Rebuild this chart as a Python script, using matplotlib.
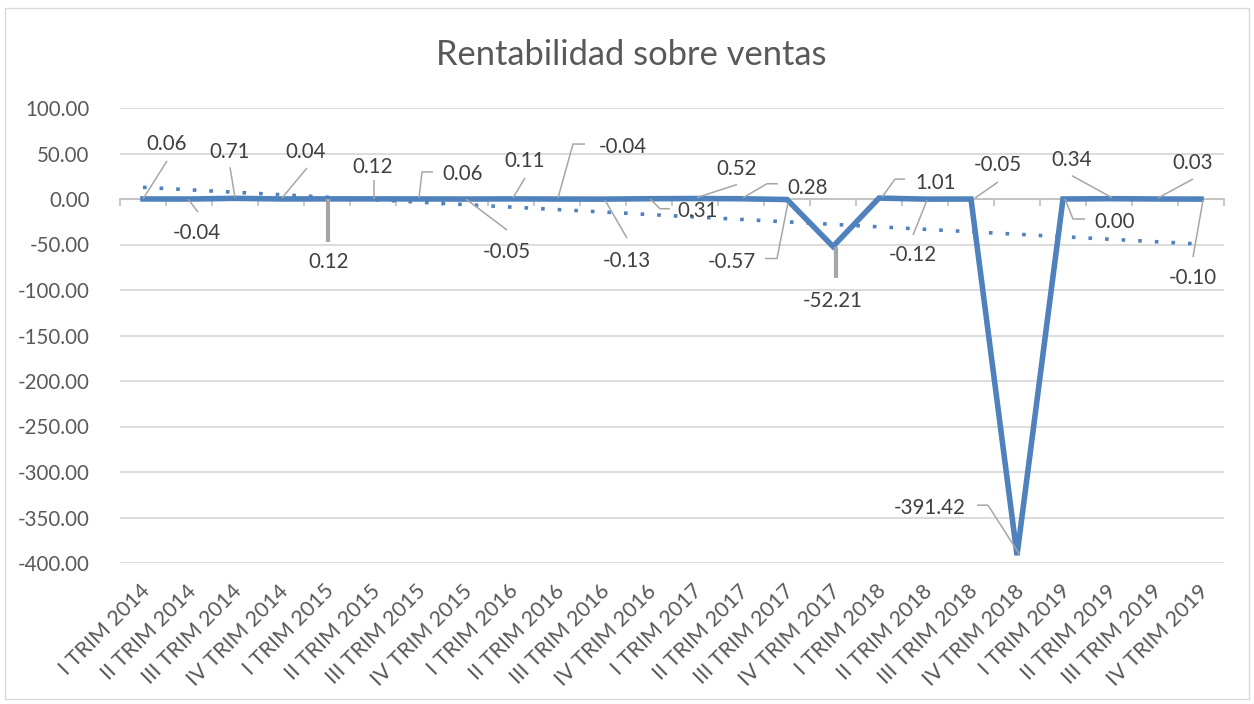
import numpy as np
import matplotlib
matplotlib.use("Agg")
import matplotlib.pyplot as plt
import matplotlib.transforms as mtransforms
from matplotlib.patches import Rectangle

plt.rcParams['font.family'] = ['Lato', 'DejaVu Sans']

# ---------------- data ----------------
title = "Rentabilidad sobre ventas"
categories = [
    "I TRIM 2014", "II TRIM 2014", "III TRIM 2014", "IV TRIM 2014",
    "I TRIM 2015", "II TRIM 2015", "III TRIM 2015", "IV TRIM 2015",
    "I TRIM 2016", "II TRIM 2016", "III TRIM 2016", "IV TRIM 2016",
    "I TRIM 2017", "II TRIM 2017", "III TRIM 2017", "IV TRIM 2017",
    "I TRIM 2018", "II TRIM 2018", "III TRIM 2018", "IV TRIM 2018",
    "I TRIM 2019", "II TRIM 2019", "III TRIM 2019", "IV TRIM 2019",
]
values = [0.06, -0.04, 0.71, 0.04, 0.12, 0.12, 0.06, -0.05,
          0.11, -0.04, -0.13, 0.31, 0.52, 0.28, -0.57, -52.21,
          1.01, -0.12, -0.05, -391.42, 0.00, 0.34, 0.03, -0.10]
y_ticks = [100, 50, 0, -50, -100, -150, -200, -250, -300, -350, -400]

# ---------------- label layout (pixel offsets, image coords: y down) ----------------
# (text dx, text dy, leader path, thick leader)
label_layout = [
    ((24, -55), [(0, 0), (24, -38)], False),
    ((8, 34), [(-1, 0), (9, 13)], False),
    ((-5, -46), [(0, -1), (-5, -31)], False),
    ((25, -47), [(1, -1), (26, -31)], False),
    ((2, 63), [(1, 0), (1, 43)], True),
    ((0, -32), [(1, 0), (1, -19)], False),
    ((44, -25), [(0, -1), (3, -27), (14, -27)], False),
    ((42, 53), [(1, 0), (42, 31)], False),
    ((14, -38), [(2, -1), (14, -21)], False),
    ((66, -52), [(1, -1), (16, -55), (28, -55)], False),
    ((24, 62), [(2, 1), (24, 39)], False),
    ((49, 12), [(1, 0), (11, 10), (21, 10)], False),
    ((42, -30), [(2, -1), (42, -14)], False),
    ((67, -11), [(2, -1), (26, -15), (37, -15)], False),
    ((-55, 62), [(1, 3), (-10, 59), (-22, 59)], False),
    ((0, 54), [(3, 0), (3, 31)], True),
    ((57, -15), [(3, -1), (16, -19), (26, -19)], False),
    ((-12, 56), [(2, 1), (-12, 36)], False),
    ((27, -34), [(4, -1), (27, -17)], False),
    ((-87, -47), [(3, 0), (-29, -50), (-40, -50)], False),
    ((52, 23), [(2, 0), (10, 20), (22, 20)], False),
    ((-37, -39), [(3, -1), (-37, -23)], False),
    ((38, -36), [(3, -1), (38, -20)], False),
    ((-8, 79), [(2, 1), (-8, 58)], False),
]

W, H = 1254, 704
fig = plt.figure(figsize=(W / 100, H / 100), dpi=100)
fig.patch.set_facecolor('white')

# chart border
fig.patches.append(Rectangle((5 / W, 1 - 699 / H), (1249 - 5) / W, (699 - 8) / H,
                             transform=fig.transFigure, fill=False,
                             edgecolor='#D9D9D9', linewidth=1.0))

ax = fig.add_axes([120 / W, 1 - 563 / H, (1224 - 120) / W, (563 - 108) / H])
ax.set_xlim(-0.5, len(categories) - 0.5)
ax.set_ylim(-400, 100)

line_color = '#4F81BD'
text_color = '#404040'
axis_text = '#595959'
leader_color = '#A6A6A6'

x = np.arange(len(categories))
vals = np.array(values)

# grid
ax.set_yticks(y_ticks)
ax.set_yticklabels([f"{t:.2f}" for t in y_ticks], fontsize=14.8, color=axis_text)
ax.yaxis.grid(True, color='#D9D9D9', linewidth=1.3)
ax.set_axisbelow(True)
ax.tick_params(axis='y', length=0, pad=22)
for s in ax.spines.values():
    s.set_visible(False)

# horizontal axis at zero with boundary ticks
ax.spines['bottom'].set_visible(True)
ax.spines['bottom'].set_position(('data', 0))
ax.spines['bottom'].set_color('#BFBFBF')
ax.spines['bottom'].set_linewidth(1.2)
ax.set_xticks(np.arange(-0.5, len(categories) + 0.5, 1))
ax.set_xticklabels([])
ax.tick_params(axis='x', length=5, width=1.2, color='#BFBFBF', direction='out')

# category labels at the bottom
lab_tr = mtransforms.blended_transform_factory(ax.transData, ax.transAxes)
for i, c in enumerate(categories):
    ax.text(i, 0, c, transform=lab_tr + mtransforms.Affine2D().translate(4, -25),
            rotation=45, ha='right', va='center', rotation_mode='anchor',
            fontsize=15.5, color=axis_text)

# trendline (linear fit)
coef = np.polyfit(x, vals, 1)
trend = np.polyval(coef, x)
ax.plot(x, trend, color=line_color, linewidth=2.6, linestyle=(0, (1, 3.6)),
        dash_capstyle='butt', zorder=3)

# main line
ax.plot(x, vals, color=line_color, linewidth=4.0, solid_joinstyle='miter',
        zorder=4)

# data labels and leaders
for i, v in enumerate(values):
    (tdx, tdy), path, thick = label_layout[i]
    anchor = mtransforms.ScaledTranslation(i, v, ax.transData)
    px = [p[0] for p in path]
    py = [-p[1] for p in path]
    ax.plot(px, py, transform=mtransforms.Affine2D() + anchor,
            color=leader_color, linewidth=3.0 if thick else 1.1,
            solid_capstyle='butt', zorder=5, clip_on=False)
    ax.text(tdx, -tdy, f"{v:.2f}", transform=mtransforms.Affine2D() + anchor,
            ha='center', va='center', fontsize=14.8, color=text_color,
            zorder=6, clip_on=False)

fig.text(631 / W, 1 - 55 / H, title, ha='center', va='center', fontsize=24.8,
         color=axis_text)

fig.savefig("out.png", dpi=100, facecolor='white')
